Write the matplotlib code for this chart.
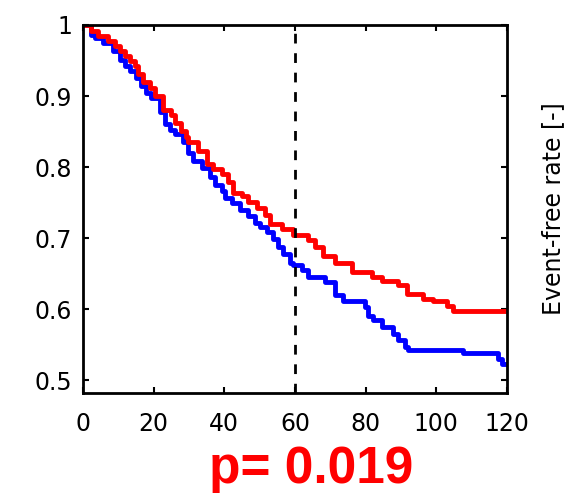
import matplotlib
matplotlib.use("Agg")
import matplotlib.pyplot as plt
from matplotlib.ticker import FuncFormatter

# step curves (time, event-free rate)
red_t = [0, 2.3, 4.2, 7.1, 9.1, 10.5, 11.9, 13.3, 14.7, 15.6, 17.0, 19.0, 20.4,
         22.6, 24.9, 26.0, 27.7, 29.2, 29.7, 32.5, 35.1, 36.8, 39.3, 41.0, 42.5,
         45.0, 46.7, 49.2, 51.5, 52.9, 56.3, 59.4, 63.7, 65.7, 67.9, 71.3, 76.1,
         81.8, 84.6, 89.2, 91.7, 96.2, 99.1, 103.0, 104.7, 120]
red_s = [1.0, 0.992, 0.984, 0.977, 0.970, 0.963, 0.956, 0.949, 0.942, 0.931,
         0.920, 0.912, 0.900, 0.880, 0.873, 0.862, 0.851, 0.843, 0.835, 0.823,
         0.804, 0.798, 0.790, 0.779, 0.764, 0.759, 0.751, 0.742, 0.732, 0.720,
         0.713, 0.704, 0.697, 0.687, 0.675, 0.665, 0.653, 0.646, 0.640, 0.634,
         0.622, 0.615, 0.612, 0.604, 0.598, 0.598]

blue_t = [0, 2.3, 3.4, 5.7, 8.5, 10.5, 11.9, 13.3, 15.0, 16.4, 17.8, 19.2, 21.8,
          23.2, 24.6, 26.0, 28.3, 29.7, 31.1, 33.7, 35.9, 37.4, 39.3, 40.2, 42.2,
          44.4, 46.7, 48.7, 50.1, 52.1, 53.8, 55.2, 56.6, 58.6, 59.4, 62.0, 63.7,
          68.5, 71.3, 73.6, 79.8, 80.7, 82.1, 84.6, 87.7, 89.2, 91.1, 92.0, 107.6,
          117.5, 118.6, 120]
blue_s = [1.0, 0.986, 0.982, 0.975, 0.963, 0.951, 0.942, 0.935, 0.925, 0.914,
          0.904, 0.897, 0.877, 0.861, 0.852, 0.846, 0.835, 0.820, 0.808, 0.799,
          0.786, 0.775, 0.766, 0.756, 0.750, 0.739, 0.731, 0.722, 0.716, 0.708,
          0.699, 0.687, 0.677, 0.665, 0.662, 0.655, 0.646, 0.638, 0.620, 0.612,
          0.603, 0.590, 0.585, 0.575, 0.565, 0.556, 0.547, 0.543, 0.538, 0.530,
          0.523, 0.523]

x_ticks = [0, 20, 40, 60, 80, 100, 120]
y_ticks = [0.5, 0.6, 0.7, 0.8, 0.9, 1.0]
cutoff = 60
p_text = "p= 0.019"

fig = plt.figure(figsize=(5.81, 4.93), dpi=100)
ax = fig.add_axes([0.1429, 0.2028, 0.7297, 0.7465])

ax.plot(blue_t, blue_s, drawstyle="steps-post", color=(0, 0, 1), lw=3.5)
ax.plot(red_t, red_s, drawstyle="steps-post", color=(1, 0, 0), lw=3.5)
ax.axvline(cutoff, color="black", lw=2, linestyle=(0, (3.5, 3.5)))

ax.set_xlim(0, 120)
ax.set_ylim(0.482, 1.0)
ax.set_xticks(x_ticks)
ax.set_yticks(y_ticks)
ax.yaxis.set_major_formatter(FuncFormatter(lambda v, p: "%g" % round(v, 2)))
ax.tick_params(direction="in", length=4, width=1.5, top=True, right=True,
               labelsize=17)
ax.tick_params(axis="y", pad=8)
ax.tick_params(axis="x", pad=14)
for s in ax.spines.values():
    s.set_linewidth(2)

fig.text(0.952, 0.576, "Event-free rate [-]", rotation=90, ha="center",
         va="center", fontsize=17)
fig.text(0.535, 0.02, p_text, color=(1, 0, 0), fontsize=37, fontweight="bold",
         family="Liberation Sans", ha="center", va="baseline")

fig.savefig("out.png", dpi=100)
